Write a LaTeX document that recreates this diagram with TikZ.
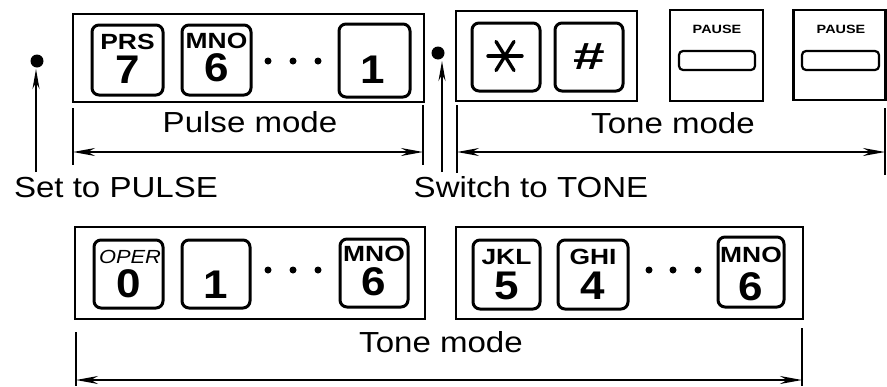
\documentclass[tikz,border=0pt]{standalone}
\usepackage{fontspec}
\setmainfont{Liberation Sans}
\usetikzlibrary{arrows.meta}
\begin{document}
\begin{tikzpicture}[x=1pt,y=-1pt,
  box/.style={draw, line width=2.2pt, inner sep=0, outer sep=0},
  keybox/.style={draw, line width=3pt, rounded corners=7pt, inner sep=0, outer sep=0},
  blob/.style={circle, fill, inner sep=0, minimum size=#1},
  ltr/.style={font=\bfseries\fontsize{22}{24}\selectfont, xscale=1.2, inner sep=0},
  dig/.style={font=\bfseries\fontsize{40}{44}\selectfont, xscale=1.1, inner sep=0},
  lbl/.style={font=\fontsize{29}{34}\selectfont, xscale=1.14, inner sep=0, anchor=base},
  dim/.style={line width=2pt, {Stealth[length=22pt,width=8pt]}-{Stealth[length=22pt,width=8pt]}},
  tick/.style={line width=2.2pt},
  up/.style={line width=2pt, -{Stealth[length=20pt,width=7pt]}},
  symline/.style={line width=3.4pt, line cap=round},
  pauselbl/.style={font=\bfseries\fontsize{12}{14}\selectfont, xscale=1.2, inner sep=0}
]
\useasboundingbox (0,0) rectangle (887,386);

% ---------- top row: pulse ----------
\node[box, minimum width=351pt, minimum height=88pt] (pulsebox) at (248.5,58) {};
\node[keybox, minimum width=71pt, minimum height=70pt] (k7) at (127.5,60) {};
\node[ltr] at (127.5,42) {PRS};
\node[dig] at (127.5,70) {7};
\node[keybox, minimum width=69pt, minimum height=70pt] (k6a) at (216.5,60) {};
\node[ltr] at (216.5,41) {MNO};
\node[dig] at (216.5,68) {6};
\node[blob=7pt] (da1) at (268,61) {};
\node[blob=7pt] (da2) at (293,61) {};
\node[blob=7pt] (da3) at (318,61) {};
\node[keybox, minimum width=71pt, minimum height=73pt] (k1a) at (374.5,60.5) {};
\node[dig] at (373,70) {1};

% ---------- top row: tone ----------
\node[box, minimum width=181pt, minimum height=90pt] (tonebox) at (546.5,56) {};
\node[keybox, minimum width=68pt, minimum height=68pt] (kstar) at (506,57) {};
\coordinate (sc) at (505,56);
\draw[symline] ([xshift=-17pt]sc) -- ([xshift=17pt]sc);
\draw[symline] ([xshift=-9pt,yshift=14.5pt]sc) -- ([xshift=9pt,yshift=-14.5pt]sc);
\draw[symline] ([xshift=9pt,yshift=14.5pt]sc) -- ([xshift=-9pt,yshift=-14.5pt]sc);
\node[keybox, minimum width=68pt, minimum height=68pt] (khash) at (589,57) {};
\node[font=\bfseries\fontsize{38}{40}\selectfont, xscale=1.5, inner sep=0] at (589,56.5) {\#};

\node[box, minimum width=93pt, minimum height=91pt] (pause1) at (716.5,55.5) {};
\node[pauselbl] at (717,29) {PAUSE};
\node[draw, line width=2.2pt, rounded corners=4pt, minimum width=76pt, minimum height=19pt, inner sep=0] (pb1) at (717,60.5) {};
\node[box, minimum width=92pt, minimum height=90pt] (pause2) at (839.5,55) {};
\node[pauselbl] at (841,29) {PAUSE};
\node[draw, line width=2.2pt, rounded corners=4pt, minimum width=77pt, minimum height=19pt, inner sep=0] (pb2) at (840.5,60.5) {};

% ---------- dimension lines top ----------
\coordinate (pl1) at (73,108);  \coordinate (pl2) at (73,165);
\coordinate (pr1) at (423,105); \coordinate (pr2) at (423,165);
\coordinate (pla) at (73,152);  \coordinate (pra) at (423,152);
\draw[tick] (pl1) -- (pl2);
\draw[tick] (pr1) -- (pr2);
\draw[dim] (pla) -- (pra);
\node[lbl] (pulselbl) at (250,132) {Pulse mode};

\coordinate (tl1) at (457,105); \coordinate (tl2) at (457,173);
\coordinate (tr1) at (885,108); \coordinate (tr2) at (885,175);
\coordinate (tla) at (457,152); \coordinate (tra) at (885,152);
\draw[tick] (tl1) -- (tl2);
\draw[tick] (tr1) -- (tr2);
\draw[dim] (tla) -- (tra);
\node[lbl] (tonelbl) at (673,133) {Tone mode};

% ---------- switch markers ----------
\node[blob=13pt] (pulsedot) at (37,61) {};
\coordinate (pulsefoot) at (36,172);
\draw[up] (pulsefoot) -- (36,69);
\node[lbl] (setpulse) at (116,197) {Set to PULSE};

\node[blob=13pt] (tonedot) at (438,53) {};
\coordinate (tonefoot) at (442,172);
\draw[up] (tonefoot) -- (442,61);
\node[lbl] (switchtone) at (531,197) {Switch to TONE};

% ---------- bottom row ----------
\node[box, minimum width=350pt, minimum height=92pt] (box3) at (250,273) {};
\node[keybox, minimum width=69pt, minimum height=68pt] (k0) at (128.5,274) {};
\node[font=\itshape\fontsize{19}{20}\selectfont, xscale=1.15, inner sep=0] at (130,257) {OPER};
\node[dig] at (129,283.5) {0};
\node[keybox, minimum width=68pt, minimum height=68pt] (k1b) at (216,274) {};
\node[dig] at (216,285) {1};
\node[blob=7pt] (db1) at (268,270) {};
\node[blob=7pt] (db2) at (293,270) {};
\node[blob=7pt] (db3) at (318,270) {};
\node[keybox, minimum width=68pt, minimum height=68pt] (k6b) at (374,273) {};
\node[ltr] at (374,253.5) {MNO};
\node[dig] at (374,282) {6};

\node[box, minimum width=347pt, minimum height=92pt] (box4) at (629.5,273) {};
\node[keybox, minimum width=67pt, minimum height=69pt] (k5) at (506.5,274.5) {};
\node[ltr] at (506.5,257) {JKL};
\node[dig] at (506.5,286) {5};
\node[keybox, minimum width=70pt, minimum height=69pt] (k4) at (593,274.5) {};
\node[ltr] at (593,257) {GHI};
\node[dig] at (593,286) {4};
\node[blob=7pt] (dc1) at (649,270) {};
\node[blob=7pt] (dc2) at (673,270) {};
\node[blob=7pt] (dc3) at (698,270) {};
\node[keybox, minimum width=66pt, minimum height=70pt] (k6c) at (751,272) {};
\node[ltr] at (751,255) {MNO};
\node[dig] at (751,286.5) {6};

% ---------- dimension line bottom ----------
\coordinate (bl1) at (76,332);  \coordinate (bl2) at (76,386);
\coordinate (br1) at (802,328); \coordinate (br2) at (802,386);
\coordinate (bla) at (76,380);  \coordinate (bra) at (802,380);
\draw[tick] (bl1) -- (bl2);
\draw[tick] (br1) -- (br2);
\draw[dim] (bla) -- (bra);
\node[lbl] (tonelbl2) at (441,352) {Tone mode};
\end{tikzpicture}
\end{document}
